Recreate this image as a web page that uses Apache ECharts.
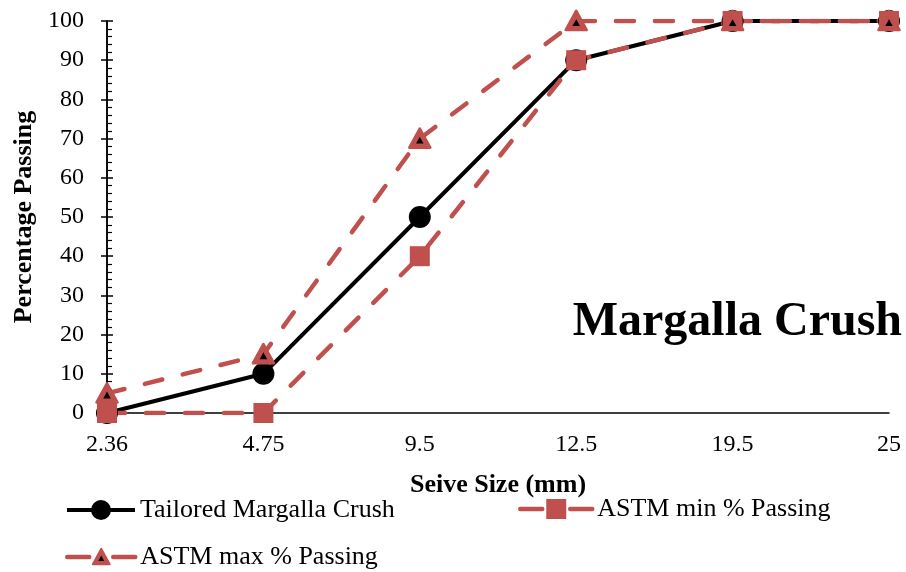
<!DOCTYPE html>
<html>
<head>
<meta charset="utf-8">
<script src="https://cdn.jsdelivr.net/npm/echarts@6/dist/echarts.min.js"></script>
<style>
  html, body { margin: 0; padding: 0; background: #fff; }
  #chart { width: 906px; height: 572px; }
</style>
</head>
<body>
<div id="chart"></div>
<script>
// Sieve sizes (mm) and percentage passing
const sieveSizes = ['2.36', '4.75', '9.5', '12.5', '19.5', '25'];
const tailoredPassing = [0, 10, 50, 90, 100, 100];
const astmMinPassing = [0, 0, 40, 90, 100, 100];
const astmMaxPassing = [5, 15, 70, 100, 100, 100];

const seriesNames = ['Tailored Margalla Crush', 'ASTM min % Passing', 'ASTM max % Passing'];

const RED = '#C0504D';
const FONT = '"Liberation Serif", "Times New Roman", serif';

// Red triangle marker with a small black triangle inside
const triangleSvg =
  '<svg xmlns="http://www.w3.org/2000/svg" width="48" height="48" viewBox="0 0 24 24">' +
  '<polygon points="12,2.4 22,20.6 2,20.6" fill="' + RED + '" stroke="' + RED +
  '" stroke-width="2.6" stroke-linejoin="round"/>' +
  '<polygon points="12,10.2 15.6,16.8 8.4,16.8" fill="#000"/>' +
  '</svg>';
const triangleSymbol = 'image://data:image/svg+xml;charset=utf-8,' + encodeURIComponent(triangleSvg);

const chart = echarts.init(document.getElementById('chart'), null, { renderer: 'canvas' });

const yCommon = {
  type: 'value',
  min: 0,
  max: 100,
  interval: 10,
  position: 'left',
  splitLine: { show: false },
  axisLine: { show: true, lineStyle: { color: '#000', width: 1.5 } }
};

const legendText = { color: '#000', fontSize: 26, fontFamily: FONT };

chart.setOption({
  animation: false,
  backgroundColor: '#fff',
  grid: { left: 107, right: 17, top: 21, bottom: 159, containLabel: false },
  xAxis: {
    type: 'category',
    data: sieveSizes,
    boundaryGap: false,
    name: 'Seive Size (mm)',
    nameLocation: 'middle',
    nameGap: 59,
    nameTextStyle: { color: '#000', fontSize: 26, fontWeight: 'bold', fontFamily: FONT },
    axisLine: { show: true, onZero: false, lineStyle: { color: '#000', width: 1.5 } },
    axisTick: { show: false },
    axisLabel: { color: '#000', fontSize: 24, fontFamily: FONT, margin: 20 },
    splitLine: { show: false }
  },
  yAxis: [
    Object.assign({}, yCommon, {
      name: 'Percentage Passing',
      nameLocation: 'middle',
      nameRotate: 90,
      nameGap: 69,
      nameTextStyle: { color: '#000', fontSize: 26, fontWeight: 'bold', fontFamily: FONT },
      axisTick: { show: true, length: 6, lineStyle: { color: '#000', width: 1.5 } },
      axisLabel: { color: '#000', fontSize: 24, fontFamily: FONT, margin: 23 }
    }),
    Object.assign({}, yCommon, {
      axisTick: { show: true, inside: true, length: 6, lineStyle: { color: '#000', width: 1.5 } },
      minorTick: { show: true, splitNumber: 5, length: 5, lineStyle: { color: '#000', width: 1.2 } },
      axisLabel: { show: false }
    })
  ],
  legend: [
    {
      data: [seriesNames[0]],
      left: 65, top: 497, padding: 0, itemWidth: 68, itemHeight: 25,
      lineStyle: { width: 4 },
      textStyle: legendText
    },
    {
      data: [seriesNames[1]],
      left: 518, top: 496, padding: 0, itemWidth: 72, itemHeight: 25,
      lineStyle: { width: 4.5, type: [22, 28], cap: 'round' },
      textStyle: legendText
    },
    {
      data: [seriesNames[2]],
      left: 65, top: 544, padding: 0, itemWidth: 68, itemHeight: 25,
      lineStyle: { width: 4.5, type: [22, 24], cap: 'round' },
      textStyle: legendText
    }
  ],
  graphic: [
    {
      type: 'text',
      right: 4,
      top: 299,
      style: {
        text: 'Margalla Crush',
        fill: '#000',
        font: 'bold 48px ' + FONT
      }
    }
  ],
  series: [
    {
      name: seriesNames[0],
      type: 'line',
      data: tailoredPassing,
      symbol: 'circle',
      symbolSize: 22,
      itemStyle: { color: '#000' },
      lineStyle: { color: '#000', width: 4 }
    },
    {
      name: seriesNames[1],
      type: 'line',
      data: astmMinPassing,
      symbol: 'rect',
      symbolSize: 20,
      itemStyle: { color: RED },
      lineStyle: { color: RED, width: 4.5, type: [18, 21], cap: 'round' }
    },
    {
      name: seriesNames[2],
      type: 'line',
      data: astmMaxPassing,
      symbol: triangleSymbol,
      symbolSize: 25,
      itemStyle: { color: RED },
      lineStyle: { color: RED, width: 4.5, type: [18, 21], cap: 'round' }
    }
  ]
});
</script>
</body>
</html>
